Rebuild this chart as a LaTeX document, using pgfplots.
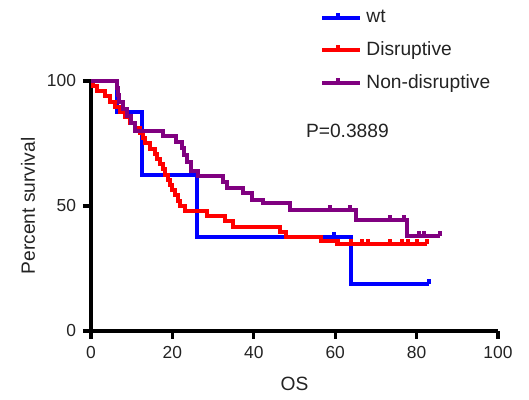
\documentclass[border=0pt]{standalone}
\usepackage{fontspec}
\setmainfont{Liberation Sans}
\usepackage{pgfplots}
\pgfplotsset{compat=1.18}
\definecolor{kmblue}{RGB}{0,0,255}
\definecolor{kmred}{RGB}{255,0,0}
\definecolor{kmpurple}{RGB}{128,0,128}
\definecolor{txt}{RGB}{35,35,35}
% censor tick: short upward stroke
\pgfdeclareplotmark{cens}{%
  \pgfpathmoveto{\pgfqpoint{0pt}{0pt}}%
  \pgfpathlineto{\pgfqpoint{0pt}{\pgfplotmarksize}}%
  \pgfusepathqstroke}
\begin{document}
\begin{tikzpicture}
\useasboundingbox (-45.5pt,-34.5pt) rectangle (219pt,165.5pt);
\begin{axis}[
    scale only axis,
    width=203.5pt, height=125pt,
    xmin=0, xmax=100, ymin=0, ymax=100,
    axis lines=left,
    axis line style={-, line width=2pt, black},
    xtick={0,20,...,100}, ytick={0,50,100},
    tick align=outside,
    major tick length=4pt,
    tick style={line width=1.6pt, black},
    /pgf/number format/assume math mode=true,
    tick label style={font=\fontsize{8.7}{10}\selectfont, text=txt},
    label style={font=\fontsize{9.6}{11}\selectfont, text=txt},
    xlabel={OS},
    ylabel={Percent survival},
    xlabel style={at={(axis description cs:0.5,-0.21)}, anchor=center},
    ylabel style={at={(axis description cs:-0.155,0.5)}, anchor=center},
    clip=false,
    legend style={at={(axis description cs:0.548,1.318)}, anchor=north west,
        draw=none, fill=none, font=\fontsize{9.6}{11}\selectfont, text=txt,
        row sep=4pt},
    legend cell align=left,
    legend image code/.code={%
        \draw[#1] (0pt,0pt) -- (15.5pt,0pt);
        \draw[#1] (7.75pt,0pt) -- (7.75pt,2.5pt);
        \path (0pt,0pt) -- (19pt,0pt);},
    mark size=2.5pt,
]
% wt
\addplot[const plot, kmblue, line width=2pt] coordinates {
    (0,100) (6.3,87.5) (12.6,62.5) (26,37.5) (64,18.75) (83,18.75)
};
\addlegendentry{wt}
% Disruptive
\addplot[const plot, kmred, line width=2pt] coordinates {
    (0,100) (0.5,97.9) (1.5,95.8) (3.4,93.8) (4.7,91.7) (5.9,89.6)
    (7.1,87.5) (8.4,85.4) (9.6,83.3) (10.8,81.3) (12,79.2) (12.8,77.1)
    (13.3,75) (14.5,72.9) (15.7,70.8) (16.3,68.8) (17,66.7) (17.6,64.6)
    (18.2,62.5) (18.8,60.4) (19.4,58.3) (20,56.3) (20.6,54.2) (21.3,52.1)
    (21.9,50) (23.1,47.9) (28.5,45.8) (33,43.8) (35,41.7) (46.5,39.6)
    (48,37.5) (56.6,35.8) (60.5,34.8) (82.5,34.8)
};
\addlegendentry{Disruptive}
% Non-disruptive
\addplot[const plot, kmpurple, line width=2pt] coordinates {
    (0,100) (6.4,97.2) (6.6,94.4) (6.8,91.7) (7.8,88.9) (8.8,86.1)
    (9.8,83.3) (10.8,80) (17.7,77.8) (21,75.5) (22.3,73) (22.8,70.5)
    (23.5,67.5) (24.5,64) (26.4,62) (32.5,59.5) (33.5,57) (37.4,55)
    (39.5,52.5) (42.3,51) (48.9,48.2) (65.2,44.2) (77.6,37.9) (85.7,37.9)
};
\addlegendentry{Non-disruptive}
% censored observations
\addplot[forget plot, only marks, mark=cens, kmblue, line width=2pt] coordinates {
    (59.7,37.5) (83,18.75)
};
\addplot[forget plot, only marks, mark=cens, kmred, line width=2pt] coordinates {
    (60.7,34.8) (64,34.8) (66.6,34.8) (68,34.8) (73.5,34.8) (76.3,34.8)
    (78,34.8) (80,34.8) (82.5,34.8)
};
\addplot[forget plot, only marks, mark=cens, kmpurple, line width=2pt] coordinates {
    (58.7,48.2) (63.6,48.2) (73.5,44.2) (77,44.2) (80.5,37.9) (81.8,37.9)
    (85.7,37.9)
};
\node[font=\fontsize{9.6}{11}\selectfont, text=txt] at (axis cs:63,80) {P=0.3889};
\end{axis}
\end{tikzpicture}
\end{document}
